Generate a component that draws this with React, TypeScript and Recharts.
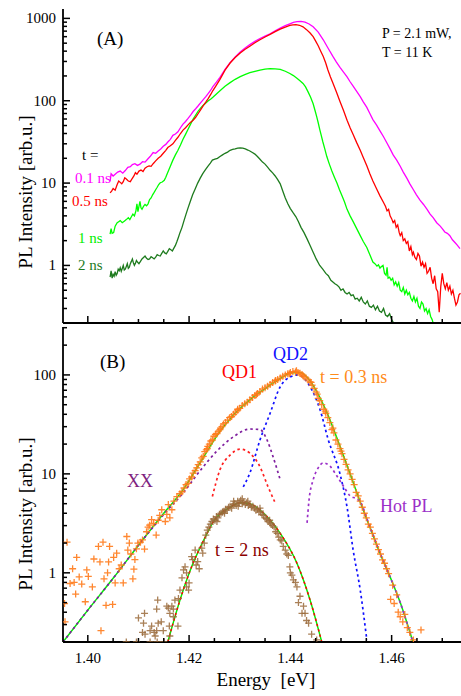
import React from 'react';
import { ComposedChart, Line, Scatter, XAxis, YAxis } from 'recharts';

// ---------- axes ----------
const energyDomain = [1.3951, 1.4737];
const energyTicks = [1.4, 1.405, 1.41, 1.415, 1.42, 1.425, 1.43, 1.435, 1.44, 1.445, 1.45, 1.455, 1.46, 1.465, 1.47];
const energyLabels: Record<string, string> = { '1.4': '1.40', '1.42': '1.42', '1.44': '1.44', '1.46': '1.46' };
const yDomainA = [0.2, 1300];
const yDomainB = [0.2, 305];
const yTicksA = [0.2, 0.3, 0.4, 0.5, 0.6, 0.7, 0.8, 0.9, 1, 2, 3, 4, 5, 6, 7, 8, 9, 10, 20, 30, 40, 50, 60, 70, 80, 90, 100, 200, 300, 400, 500, 600, 700, 800, 900, 1000];
const yTicksB = [0.2, 0.3, 0.4, 0.5, 0.6, 0.7, 0.8, 0.9, 1, 2, 3, 4, 5, 6, 7, 8, 9, 10, 20, 30, 40, 50, 60, 70, 80, 90, 100, 200, 300];
const yMajorLabels: Record<string, string> = { '1': '1', '10': '10', '100': '100', '1000': '1000' };

// ---------- panel A : time-resolved spectra [energy eV, intensity] ----------
const spec01ns = [[1.4044,10.5],[1.4046,13],[1.4050,12.2],[1.4054,12.8],[1.4059,13.6],[1.4064,14],[1.4069,13.2],[1.4074,14.2],[1.4079,15.5],[1.4084,15.8],[1.4088,16.8],[1.4093,17.2],[1.4098,16.4],[1.4103,17.0],[1.4108,18.2],[1.4113,18.0],[1.4118,19.5],[1.4123,21],[1.4129,23.5],[1.4134,23],[1.4139,24.5],[1.4144,26],[1.4149,28],[1.4154,29.5],[1.4158,31.5],[1.4163,34],[1.4168,38],[1.4173,39.5],[1.4178,42],[1.4183,47],[1.4188,52],[1.4193,56],[1.4198,61],[1.4203,67],[1.4208,74],[1.4213,80],[1.4218,87],[1.4223,95],[1.4228,103],[1.4233,112],[1.4238,123],[1.4243,135],[1.4247,148],[1.4254,168],[1.4261,192],[1.4271,240],[1.4281,290],[1.4291,340],[1.4301,390],[1.4310,435],[1.4320,480],[1.4330,525],[1.4340,570],[1.4350,610],[1.4360,650],[1.4370,705],[1.4380,760],[1.4390,815],[1.4399,860],[1.4406,895],[1.4413,915],[1.4421,918],[1.4429,900],[1.4437,855],[1.4445,790],[1.4455,680],[1.4465,550],[1.4474,440],[1.4484,345],[1.4491,295],[1.4498,255],[1.4505,222],[1.4512,195],[1.4518,170],[1.4524,150],[1.4531,130],[1.4538,112],[1.4544,97],[1.4551,83],[1.4557,70],[1.4563,59],[1.4570,51],[1.4577,43],[1.4584,36.5],[1.4591,30.5],[1.4597,26],[1.4603,22],[1.4610,19],[1.4617,16],[1.4623,13.6],[1.4630,11.5],[1.4636,9.8],[1.4643,8.3],[1.4649,7.2],[1.4656,6.2],[1.4663,5.5],[1.4670,4.8],[1.4676,4.2],[1.4682,3.8],[1.4689,3.3],[1.4696,3.0],[1.4700,2.8],[1.4705,2.55],[1.4710,2.45],[1.4715,2.3],[1.4720,2.05],[1.4725,1.9],[1.4730,1.75],[1.4735,1.6]];

const spec05ns = [[1.4044,7.6],[1.4047,8.0],[1.4050,8.6],[1.4054,8.2],[1.4058,9.6],[1.4061,10.6],[1.4064,10.2],[1.4067,9.8],[1.4070,10.4],[1.4073,11.6],[1.4076,11.2],[1.4080,10.6],[1.4084,10.4],[1.4087,11.2],[1.4091,12.2],[1.4094,13.4],[1.4097,12.8],[1.4101,14.0],[1.4105,14.4],[1.4109,13.8],[1.4113,15.2],[1.4117,15.8],[1.4121,16.2],[1.4125,16.0],[1.4129,17.2],[1.4134,18.6],[1.4139,20],[1.4144,21.2],[1.4149,23],[1.4154,25],[1.4158,27],[1.4163,28.4],[1.4168,30],[1.4173,33],[1.4178,36],[1.4183,40],[1.4188,44],[1.4193,47],[1.4198,51],[1.4203,55],[1.4208,58],[1.4213,63],[1.4218,70],[1.4223,78],[1.4228,87],[1.4233,96],[1.4238,107],[1.4243,120],[1.4247,133],[1.4254,155],[1.4261,182],[1.4271,235],[1.4281,287],[1.4291,335],[1.4301,380],[1.4310,420],[1.4320,458],[1.4330,505],[1.4340,550],[1.4350,595],[1.4360,640],[1.4370,690],[1.4380,740],[1.4390,785],[1.4399,820],[1.4405,835],[1.4411,838],[1.4418,825],[1.4425,790],[1.4432,730],[1.4439,665],[1.4445,600],[1.4450,530],[1.4455,465],[1.4460,400],[1.4465,345],[1.4470,285],[1.4474,238],[1.4479,196],[1.4484,164],[1.4491,128],[1.4498,98],[1.4505,76],[1.4512,58],[1.4518,47],[1.4524,39],[1.4531,31],[1.4538,25],[1.4544,20.5],[1.4551,16.2],[1.4557,13],[1.4563,10.6],[1.4570,8.6],[1.4577,7.0],[1.4584,5.8],[1.4588,5.2],[1.4591,4.6],[1.4594,4.8],[1.4597,4.0],[1.4600,3.7],[1.4603,3.3],[1.4606,3.5],[1.4609,2.9],[1.4612,3.1],[1.4615,2.5],[1.4617,2.3],[1.4620,2.5],[1.4623,2.0],[1.4626,2.1],[1.4629,1.85],[1.4632,1.95],[1.4635,1.5],[1.4638,1.7],[1.4641,1.35],[1.4643,1.45],[1.4646,1.25],[1.4649,1.18],[1.4652,1.4],[1.4655,1.3],[1.4658,0.98],[1.4661,1.1],[1.4664,0.95],[1.4667,1.05],[1.4670,0.8],[1.4673,0.85],[1.4676,0.95],[1.4679,0.7],[1.4682,0.6],[1.4685,0.75],[1.4688,0.52],[1.4691,0.48],[1.4694,0.27],[1.4697,0.55],[1.4700,0.8],[1.4703,0.6],[1.4706,0.52],[1.4709,0.62],[1.4712,0.5],[1.4715,0.56],[1.4718,0.45],[1.4721,0.5],[1.4724,0.4],[1.4727,0.33],[1.4730,0.36],[1.4733,0.44],[1.4736,0.46]];

const spec1ns = [[1.4044,2.4],[1.4046,2.8],[1.4048,2.45],[1.4051,2.5],[1.4054,3.0],[1.4058,3.3],[1.4061,3.4],[1.4064,3.5],[1.4068,3.3],[1.4072,3.45],[1.4076,3.6],[1.4080,3.8],[1.4083,3.6],[1.4086,3.9],[1.4089,4.2],[1.4092,4.0],[1.4095,4.6],[1.4097,5.6],[1.4099,4.5],[1.4101,5.2],[1.4103,6.0],[1.4105,5.0],[1.4107,4.8],[1.4110,5.2],[1.4113,5.5],[1.4116,5.3],[1.4119,5.6],[1.4122,6.3],[1.4125,6.6],[1.4128,7.2],[1.4131,7.7],[1.4134,8.3],[1.4137,8.9],[1.4140,9.6],[1.4143,10.1],[1.4147,10.3],[1.4151,10.8],[1.4154,11.8],[1.4158,13.5],[1.4163,16],[1.4168,19],[1.4173,22],[1.4178,25],[1.4183,29],[1.4188,34],[1.4193,39],[1.4198,45],[1.4203,52],[1.4208,60],[1.4213,67],[1.4218,75],[1.4223,82],[1.4228,88],[1.4233,94],[1.4238,100],[1.4243,105],[1.4247,110],[1.4254,121],[1.4261,132],[1.4271,150],[1.4281,166],[1.4291,182],[1.4301,196],[1.4310,208],[1.4320,219],[1.4330,228],[1.4340,236],[1.4350,242],[1.4360,245],[1.4370,244],[1.4380,240],[1.4390,228],[1.4399,214],[1.4406,202],[1.4413,188],[1.4419,175],[1.4425,162],[1.4430,147],[1.4435,128],[1.4440,110],[1.4445,92],[1.4449,75],[1.4452,64],[1.4455,54],[1.4458,45],[1.4461,38],[1.4464,32],[1.4468,26],[1.4472,21],[1.4477,17],[1.4482,14],[1.4487,11.8],[1.4492,10],[1.4497,8.3],[1.4502,7.0],[1.4507,5.9],[1.4512,4.8],[1.4518,4.0],[1.4524,3.4],[1.4531,2.8],[1.4538,2.3],[1.4544,1.95],[1.4551,1.65],[1.4557,1.35],[1.4563,1.1],[1.4567,1.05],[1.4571,0.98],[1.4574,1.02],[1.4577,0.93],[1.4580,0.97],[1.4583,1.0],[1.4586,0.8],[1.4589,0.76],[1.4591,0.95],[1.4593,0.7],[1.4596,0.72],[1.4599,0.66],[1.4602,0.7],[1.4605,0.58],[1.4608,0.63],[1.4611,0.56],[1.4614,0.62],[1.4617,0.5],[1.4620,0.48],[1.4623,0.54],[1.4626,0.45],[1.4629,0.5],[1.4632,0.44],[1.4635,0.47],[1.4638,0.4],[1.4641,0.37],[1.4644,0.42],[1.4647,0.36],[1.4650,0.4],[1.4653,0.32],[1.4656,0.3],[1.4659,0.36],[1.4662,0.34],[1.4665,0.28],[1.4668,0.3],[1.4671,0.26],[1.4674,0.29],[1.4677,0.24],[1.4680,0.22],[1.4683,0.19]];

const spec2ns = [[1.4044,0.72],[1.4046,0.86],[1.4048,0.7],[1.4050,0.78],[1.4052,0.74],[1.4054,0.84],[1.4056,0.76],[1.4058,0.8],[1.4060,0.9],[1.4062,0.86],[1.4064,0.94],[1.4066,0.85],[1.4068,0.92],[1.4070,1.0],[1.4072,0.88],[1.4074,0.9],[1.4076,0.97],[1.4078,1.05],[1.4080,0.92],[1.4082,0.95],[1.4084,1.05],[1.4086,1.12],[1.4088,1.2],[1.4090,1.08],[1.4092,1.0],[1.4094,1.06],[1.4096,1.15],[1.4098,1.1],[1.4101,1.05],[1.4104,1.12],[1.4107,1.2],[1.4110,1.25],[1.4113,1.3],[1.4116,1.22],[1.4119,1.18],[1.4122,1.2],[1.4125,1.28],[1.4128,1.24],[1.4131,1.2],[1.4134,1.26],[1.4137,1.35],[1.4140,1.32],[1.4143,1.3],[1.4146,1.4],[1.4149,1.5],[1.4152,1.42],[1.4155,1.38],[1.4158,1.48],[1.4161,1.6],[1.4164,1.55],[1.4167,1.5],[1.4170,1.62],[1.4173,1.75],[1.4176,1.95],[1.4179,2.2],[1.4182,2.5],[1.4186,2.9],[1.4190,3.5],[1.4194,4.2],[1.4198,5.0],[1.4202,5.9],[1.4207,7.2],[1.4212,8.5],[1.4217,10],[1.4222,11.5],[1.4227,13],[1.4232,14.5],[1.4237,16],[1.4242,17.5],[1.4246,19],[1.4251,19.5],[1.4256,20],[1.4261,21],[1.4266,22],[1.4271,23],[1.4276,23.8],[1.4281,25],[1.4286,25.6],[1.4291,26],[1.4296,26.5],[1.4301,26.8],[1.4306,26.5],[1.4311,26],[1.4316,25.2],[1.4320,24.5],[1.4325,23.5],[1.4330,22.5],[1.4335,21],[1.4340,19.5],[1.4345,18],[1.4350,17],[1.4355,15.6],[1.4360,14.3],[1.4365,13.3],[1.4370,12.2],[1.4375,11],[1.4380,9.8],[1.4385,8],[1.4390,6.6],[1.4395,5.6],[1.4400,4.9],[1.4405,4.4],[1.4411,3.9],[1.4416,3.4],[1.4421,2.9],[1.4427,2.5],[1.4433,2.1],[1.4439,1.75],[1.4445,1.45],[1.4451,1.2],[1.4458,1.0],[1.4464,0.9],[1.4470,0.8],[1.4475,0.75],[1.4480,0.66],[1.4484,0.63],[1.4488,0.6],[1.4492,0.58],[1.4496,0.55],[1.4500,0.5],[1.4504,0.52],[1.4508,0.47],[1.4512,0.45],[1.4516,0.47],[1.4520,0.43],[1.4524,0.44],[1.4528,0.39],[1.4532,0.4],[1.4536,0.37],[1.4540,0.41],[1.4544,0.36],[1.4548,0.34],[1.4552,0.37],[1.4556,0.32],[1.4560,0.31],[1.4564,0.33],[1.4568,0.29],[1.4572,0.32],[1.4576,0.28],[1.4580,0.27],[1.4584,0.3],[1.4588,0.25],[1.4592,0.24],[1.4596,0.26],[1.4600,0.22],[1.4604,0.2]];

// ---------- panel B : measured points [energy eV, intensity] ----------
const pts03ns = [
[1.3954,0.49],[1.3955,0.32],[1.3959,2.04],[1.3965,0.78],[1.397,1.1],[1.3973,0.8],[1.3976,0.61],[1.3978,1.43],[1.3983,0.91],[1.3988,0.77],[1.3995,0.51],[1.3998,1.07],[1.4001,0.92],[1.4009,0.72],[1.4012,1.38],[1.4021,1.85],[1.4024,1.29],[1.4026,0.26],[1.403,2.04],[1.4032,0.87],[1.4036,0.47],[1.4039,1.0],[1.4041,1.29],[1.4043,1.85],[1.4049,0.48],[1.4051,1.43],[1.4054,0.79],[1.4057,1.58],[1.4062,1.1],[1.4066,1.2],[1.407,0.79],[1.4077,2.33],[1.4079,1.7],[1.4082,2.0],[1.4085,1.55],[1.4089,0.87],[1.4091,1.09],[1.4093,1.36],[1.4096,1.75],[1.4099,2.0],[1.4104,2.04],[1.4108,2.15],[1.4112,1.74],[1.4116,2.6],[1.4119,2.9],[1.4122,3.03],[1.4126,3.45],[1.413,3.15],[1.4135,2.41],[1.4139,3.4],[1.4142,3.8],[1.4146,4.34],[1.4153,3.3],[1.4156,3.9],[1.4159,4.9],[1.4162,3.6],[1.4166,4.34],[1.4170,5.3],[1.4176,5.9],[1.4182,6.3],[1.4186,6.6],
[1.4190,7.2],[1.4194,7.8],[1.4198,8.0],[1.4201,8.9],[1.4205,9.3],[1.4208,10.2],[1.4212,10.8],[1.4215,11.5],[1.4218,12.4],[1.4222,13.2],[1.4225,14.5],[1.4228,15.0],[1.4231,16.8],[1.4234,17.5],[1.4237,19],[1.4240,20],[1.4243,21.5],[1.4246,22],[1.4249,24],[1.4252,25],[1.4255,25.5],[1.4258,27],[1.4261,28],[1.4265,30],[1.4268,32],[1.4272,33],[1.4276,35],[1.4280,37],[1.4284,38],[1.4288,40],[1.4292,42],[1.4296,44],[1.4300,46],[1.4305,49],[1.4310,51],[1.4315,53],[1.4320,56],[1.4325,59],[1.4330,62],[1.4335,65],[1.4340,68],[1.4345,72],[1.4350,74],[1.4355,77],[1.4360,80],[1.4365,84],[1.4370,87],[1.4375,90],[1.4380,93],[1.4385,97],[1.4390,100],[1.4395,103],[1.4400,106],[1.4405,108],[1.4410,107],[1.4415,106],[1.4419,104],[1.4423,101],[1.4427,96],[1.4431,93],[1.4435,89],[1.4439,85],[1.4443,79],[1.4447,73],[1.4451,67],[1.4455,58],[1.4458,55],[1.4462,50],[1.4466,45],[1.4470,41],[1.4474,37],[1.4478,33],[1.4482,28],[1.4486,26],[1.4490,22],[1.4494,20],[1.4498,18],[1.4502,16],[1.4506,14],[1.4510,12.5],[1.4514,11],[1.4518,10],[1.4522,8.8],[1.4526,7.8],[1.4530,6.5],[1.4534,6.0],[1.4538,5.3],[1.4542,4.6],[1.4546,4.0],[1.4550,3.6],[1.4554,3.1],[1.4558,2.9],[1.4562,2.5],[1.4566,2.2],[1.4570,1.95],[1.4574,1.72],[1.4578,1.55],[1.4582,1.35],[1.4586,1.25],[1.4590,1.1],[1.4594,0.98],[1.4598,0.54],[1.4602,0.75],[1.4605,0.49],[1.4610,0.6],[1.4613,0.40],[1.4617,0.36],[1.4622,0.32],[1.4626,0.38],[1.4631,0.28],[1.4636,0.25],[1.4643,0.21],[1.4658,0.265],
[1.4236,18],[1.4262,29],[1.4296,45],[1.4333,63],[1.4371,88],[1.4398,103],[1.4412,110],[1.4425,98],[1.4441,84],[1.4453,64],[1.4469,43],[1.4484,29],[1.4500,17]
];

const pts2ns = [
[1.4076,0.2],[1.4096,0.2],[1.41,0.35],[1.4108,0.25],[1.411,0.31],[1.4112,0.39],[1.4113,0.24],[1.4123,0.26],[1.4123,0.2],[1.4126,0.29],[1.4131,0.25],[1.4133,0.23],[1.4136,0.26],[1.4136,0.43],[1.4137,0.2],[1.4138,0.53],[1.4139,0.31],[1.4145,0.32],[1.4149,0.26],[1.415,0.2],[1.4156,0.46],[1.4159,0.44],[1.4161,0.29],[1.4162,0.39],[1.4162,0.23],[1.4166,0.46],[1.4169,0.43],[1.4169,0.36],[1.4172,0.53],[1.4178,0.29],[1.4179,0.55],[1.4182,0.67],[1.4186,0.89],[1.4189,1.07],[1.4192,1.15],[1.4195,0.72],[1.4195,1.0],[1.4199,0.67],[1.42,0.79],[1.4205,1.46],[1.4207,1.36],[1.4212,1.7],[1.4214,1.2],[1.4217,1.3],[1.4220,1.1],[1.4225,1.78],[1.4227,1.58],
[1.4230,2.0],[1.4233,2.4],[1.4236,2.7],[1.4239,2.9],[1.4242,3.1],[1.4245,3.3],[1.4248,3.5],[1.4251,3.4],[1.4254,3.7],[1.4257,3.6],[1.4260,3.9],[1.4263,4.0],[1.4266,4.1],[1.4269,4.2],[1.4272,4.4],[1.4275,4.3],[1.4278,4.6],[1.4281,4.7],[1.4284,4.5],[1.4287,4.9],[1.4290,5.0],[1.4293,4.8],[1.4296,5.3],[1.4299,5.1],[1.4302,5.4],[1.4305,5.0],[1.4308,5.2],[1.4311,4.9],[1.4314,5.1],[1.4317,4.8],[1.4320,4.9],[1.4323,4.6],[1.4326,4.7],[1.4329,4.5],[1.4332,4.3],[1.4335,4.4],[1.4338,4.1],[1.4341,4.2],[1.4344,3.9],[1.4347,3.8],[1.4350,3.6],[1.4353,3.5],[1.4356,3.3],[1.4359,3.4],[1.4362,3.1],[1.4365,3.0],[1.4368,2.9],[1.4371,2.6],[1.4374,2.5],[1.4377,2.3],[1.4380,2.15],[1.4383,2.1],[1.4386,1.85],[1.4390,1.7],[1.4393,1.55],[1.4396,1.5],[1.4399,1.15],[1.4400,1.0],[1.4403,0.95],[1.4406,0.85],[1.4410,0.8],[1.4413,0.72],[1.4416,0.5],[1.4419,0.58],[1.4423,0.39],[1.4426,0.46],[1.4429,0.39],[1.4432,0.33],[1.4436,0.31],[1.4442,0.24],[1.4452,0.21],
[1.4288,5.3],[1.4305,5.6],[1.4297,4.7],[1.4316,5.3],[1.4270,4.0],[1.4255,3.3],[1.4340,4.5],[1.4360,3.2]
];

// ---------- panel B : fit and components [energy eV, intensity] ----------
const fitTotal03 = [[1.3951,0.2],[1.4,0.42],[1.405,0.88],[1.41,1.9],[1.415,4.0],[1.4188,6.9],[1.4222,13],[1.4261,27],[1.4287,39],[1.432,56],[1.4354,75],[1.438,92],[1.4403,105],[1.4419,106],[1.4439,87],[1.4452,68],[1.4472,42],[1.4498,19],[1.4518,10],[1.4538,5.2],[1.4557,2.9],[1.4577,1.58],[1.4597,0.91],[1.4617,0.5],[1.4642,0.2]];
const fitTotal2 = [[1.4158,0.2],[1.4182,0.53],[1.4205,1.15],[1.4232,2.3],[1.4248,3.3],[1.4281,4.6],[1.4301,5.1],[1.432,5.0],[1.434,4.3],[1.438,2.5],[1.4413,1.25],[1.4439,0.53],[1.4462,0.2]];
const compXX = [[1.3951,0.2],[1.4,0.42],[1.405,0.88],[1.41,1.9],[1.415,3.9],[1.4188,6.4],[1.4222,10.8],[1.4255,17],[1.4287,23.6],[1.432,28.4],[1.434,28],[1.4354,22],[1.4366,14.8],[1.438,8.7]];
const compQD1 = [[1.4246,5.9],[1.4261,11],[1.4281,15.5],[1.4301,17.8],[1.432,16.2],[1.434,11.8],[1.4356,7.4],[1.437,5.1]];
const compQD2 = [[1.4307,7.4],[1.432,10.2],[1.434,22],[1.436,41],[1.438,76],[1.4399,95],[1.4415,100],[1.4439,76],[1.4459,44],[1.4475,22],[1.4498,10],[1.4512,4.6],[1.4524,1.7],[1.4538,0.67],[1.4551,0.21]];
const compHot = [[1.4433,3.2],[1.4437,5.5],[1.4445,8.7],[1.4455,11.5],[1.4465,12.9],[1.4478,12],[1.4492,9.5],[1.4505,7.5],[1.4518,6.0],[1.4531,5.6],[1.4538,5.2],[1.4557,2.9],[1.4577,1.58],[1.4597,0.91],[1.4617,0.5],[1.4642,0.2]];

const toRows = (arr: number[][]) => arr.map(([e, v]) => ({ e, v }));

const FONT = '"Liberation Serif", "Times New Roman", serif';

const isMajorX = (v: number) => {
  const k = Math.round(v * 1000);
  return k % 20 === 0;
};

const makeXTick = (dir: number, showLabel: boolean) => (p: any) => {
  const { x, y, payload } = p;
  const v = payload.value as number;
  const major = isMajorX(v);
  const len = major ? 7 : 4;
  const key = String(Number(v.toFixed(3)));
  return (
    <g>
      <line x1={x} x2={x} y1={y} y2={y + dir * len} stroke="#000" strokeWidth={1.5} />
      {showLabel && major && energyLabels[key] ? (
        <text x={x} y={y + 21} textAnchor="middle" fontFamily={FONT} fontSize={15} fill="#000">
          {energyLabels[key]}
        </text>
      ) : null}
    </g>
  );
};

const makeYTick = () => (p: any) => {
  const { x, y, payload } = p;
  const v = payload.value as number;
  const lg = Math.log10(v);
  const major = Math.abs(lg - Math.round(lg)) < 1e-6;
  const len = major ? 7 : 4;
  const lbl = yMajorLabels[String(v)];
  return (
    <g>
      <line x1={x} x2={x + len} y1={y} y2={y} stroke="#000" strokeWidth={1.5} />
      {major && lbl ? (
        <text x={x - 7} y={y + 5} textAnchor="end" fontFamily={FONT} fontSize={15} fill="#000">
          {lbl}
        </text>
      ) : null}
    </g>
  );
};

const makePlus = (color: string, opacity: number) => (p: any) => {
  const { cx, cy } = p;
  if (cx == null || cy == null || isNaN(cx) || isNaN(cy)) return <g />;
  return (
    <path
      d={`M${cx - 3.5},${cy}h7M${cx},${cy - 3.5}v7`}
      stroke={color}
      strokeOpacity={opacity}
      strokeWidth={1.3}
      fill="none"
    />
  );
};

const axisLineStyle = { stroke: '#000', strokeWidth: 1.8 };

const texts = [
  { t: '(A)', x: 97, y: 45, s: 19, c: '#000' },
  { t: 'P = 2.1 mW,', x: 382, y: 38, s: 14, c: '#000' },
  { t: 'T = 11 K', x: 382, y: 57, s: 14, c: '#000' },
  { t: 't =', x: 82, y: 160, s: 15, c: '#000' },
  { t: '0.1 ns', x: 75, y: 183, s: 15, c: '#ff00ff' },
  { t: '0.5 ns', x: 72, y: 206, s: 15, c: '#ff0000' },
  { t: '1 ns', x: 78, y: 243, s: 15, c: '#00ee00' },
  { t: '2 ns', x: 78, y: 270, s: 15, c: '#1e7b1e' },
  { t: '(B)', x: 100, y: 368, s: 19, c: '#000' },
  { t: 'QD1', x: 222, y: 378, s: 18, c: '#ff0000' },
  { t: 'QD2', x: 273, y: 360, s: 18, c: '#1010ff' },
  { t: 't = 0.3 ns', x: 320, y: 383, s: 18, c: '#ff8c1a' },
  { t: 'XX', x: 127, y: 487, s: 18, c: '#7f1f7f' },
  { t: 'Hot PL', x: 380, y: 512, s: 18, c: '#9b30c8' },
  { t: 't = 2 ns', x: 215, y: 556, s: 18, c: '#8b0000' },
];

export default function App() {
  return (
    <div style={{ position: 'absolute', left: 0, top: 0, width: 461, height: 696, background: '#fff' }}>
      {/* Panel A */}
      <div style={{ position: 'absolute', left: 0, top: 0 }}>
        <ComposedChart width={461} height={330} margin={{ top: 9, right: 0, bottom: 0, left: 0 }}>
          <XAxis
            xAxisId="bottom"
            dataKey="e"
            type="number"
            domain={energyDomain}
            allowDataOverflow
            ticks={energyTicks}
            interval={0}
            height={7}
            tickSize={0}
            tickMargin={0}
            axisLine={axisLineStyle}
            tickLine={false}
            tick={makeXTick(-1, false)}
          />
          <XAxis
            xAxisId="top"
            orientation="top"
            dataKey="e"
            type="number"
            domain={energyDomain}
            allowDataOverflow
            ticks={energyTicks}
            interval={0}
            height={0}
            tickSize={0}
            tickMargin={0}
            axisLine={axisLineStyle}
            tickLine={false}
            tick={makeXTick(1, false)}
          />
          <YAxis
            type="number"
            scale="log"
            domain={yDomainA}
            allowDataOverflow
            ticks={yTicksA}
            interval={0}
            width={63}
            tickSize={0}
            tickMargin={0}
            axisLine={axisLineStyle}
            tickLine={false}
            tick={makeYTick()}
          />
          <Line xAxisId="bottom" data={toRows(spec2ns)} dataKey="v" stroke="#1e7b1e" strokeWidth={1.3} dot={false} isAnimationActive={false} type="linear" />
          <Line xAxisId="bottom" data={toRows(spec1ns)} dataKey="v" stroke="#00ff00" strokeWidth={1.3} dot={false} isAnimationActive={false} type="linear" />
          <Line xAxisId="bottom" data={toRows(spec01ns)} dataKey="v" stroke="#ff00ff" strokeWidth={1.3} dot={false} isAnimationActive={false} type="linear" />
          <Line xAxisId="bottom" data={toRows(spec05ns)} dataKey="v" stroke="#ff0000" strokeWidth={1.3} dot={false} isAnimationActive={false} type="linear" />
        </ComposedChart>
      </div>

      {/* Panel B */}
      <div style={{ position: 'absolute', left: 0, top: 320 }}>
        <ComposedChart width={461} height={376} margin={{ top: 7, right: 0, bottom: 0, left: 0 }}>
          <XAxis
            xAxisId="bottom"
            dataKey="e"
            type="number"
            domain={energyDomain}
            allowDataOverflow
            ticks={energyTicks}
            interval={0}
            height={54}
            tickSize={0}
            tickMargin={0}
            axisLine={axisLineStyle}
            tickLine={false}
            tick={makeXTick(-1, true)}
          />
          <XAxis
            xAxisId="top"
            orientation="top"
            dataKey="e"
            type="number"
            domain={energyDomain}
            allowDataOverflow
            ticks={energyTicks}
            interval={0}
            height={0}
            tickSize={0}
            tickMargin={0}
            axisLine={axisLineStyle}
            tickLine={false}
            tick={makeXTick(1, false)}
          />
          <YAxis
            type="number"
            scale="log"
            domain={yDomainB}
            allowDataOverflow
            ticks={yTicksB}
            interval={0}
            width={63}
            tickSize={0}
            tickMargin={0}
            axisLine={axisLineStyle}
            tickLine={false}
            tick={makeYTick()}
          />
          <Scatter xAxisId="bottom" data={toRows(pts2ns)} dataKey="v" shape={makePlus('#9a6a3a', 0.85)} isAnimationActive={false} />
          <Scatter xAxisId="bottom" data={toRows(pts03ns)} dataKey="v" shape={makePlus('#ff7a1a', 0.9)} isAnimationActive={false} />
          <Line xAxisId="bottom" data={toRows(fitTotal03)} dataKey="v" stroke="#00ee00" strokeWidth={1.5} dot={false} isAnimationActive={false} type="monotone" />
          <Line xAxisId="bottom" data={toRows(fitTotal2)} dataKey="v" stroke="#00ee00" strokeWidth={1.5} dot={false} isAnimationActive={false} type="monotone" />
          <Line xAxisId="bottom" data={toRows(fitTotal2)} dataKey="v" stroke="#ff0000" strokeWidth={1.5} strokeDasharray="2.5 3" dot={false} isAnimationActive={false} type="monotone" />
          <Line xAxisId="bottom" data={toRows(compXX)} dataKey="v" stroke="#7f1f9f" strokeWidth={1.7} strokeDasharray="2.5 3" dot={false} isAnimationActive={false} type="monotone" />
          <Line xAxisId="bottom" data={toRows(compQD1)} dataKey="v" stroke="#ff2020" strokeWidth={1.7} strokeDasharray="2.5 3" dot={false} isAnimationActive={false} type="monotone" />
          <Line xAxisId="bottom" data={toRows(compQD2)} dataKey="v" stroke="#1010ff" strokeWidth={1.7} strokeDasharray="2.5 3" dot={false} isAnimationActive={false} type="monotone" />
          <Line xAxisId="bottom" data={toRows(compHot)} dataKey="v" stroke="#9b30c8" strokeWidth={1.7} strokeDasharray="2.5 3" dot={false} isAnimationActive={false} type="monotone" />
        </ComposedChart>
      </div>

      {/* annotations */}
      <svg width={461} height={696} style={{ position: 'absolute', left: 0, top: 0, pointerEvents: 'none' }}>
        {texts.map((d, i) => (
          <text key={i} x={d.x} y={d.y} fontFamily={FONT} fontSize={d.s} fill={d.c} style={{ whiteSpace: 'pre' }}>
            {d.t}
          </text>
        ))}
        <text x={0} y={0} transform="translate(32,192) rotate(-90)" textAnchor="middle" fontFamily={FONT} fontSize={19} fill="#000">
          PL Intensity [arb.u.]
        </text>
        <text x={0} y={0} transform="translate(32,514) rotate(-90)" textAnchor="middle" fontFamily={FONT} fontSize={19} fill="#000">
          PL Intensity [arb.u.]
        </text>
        <text x={266} y={686} textAnchor="middle" fontFamily={FONT} fontSize={19} fill="#000" style={{ whiteSpace: 'pre' }}>
          {'Energy  [eV]'}
        </text>
      </svg>
    </div>
  );
}
